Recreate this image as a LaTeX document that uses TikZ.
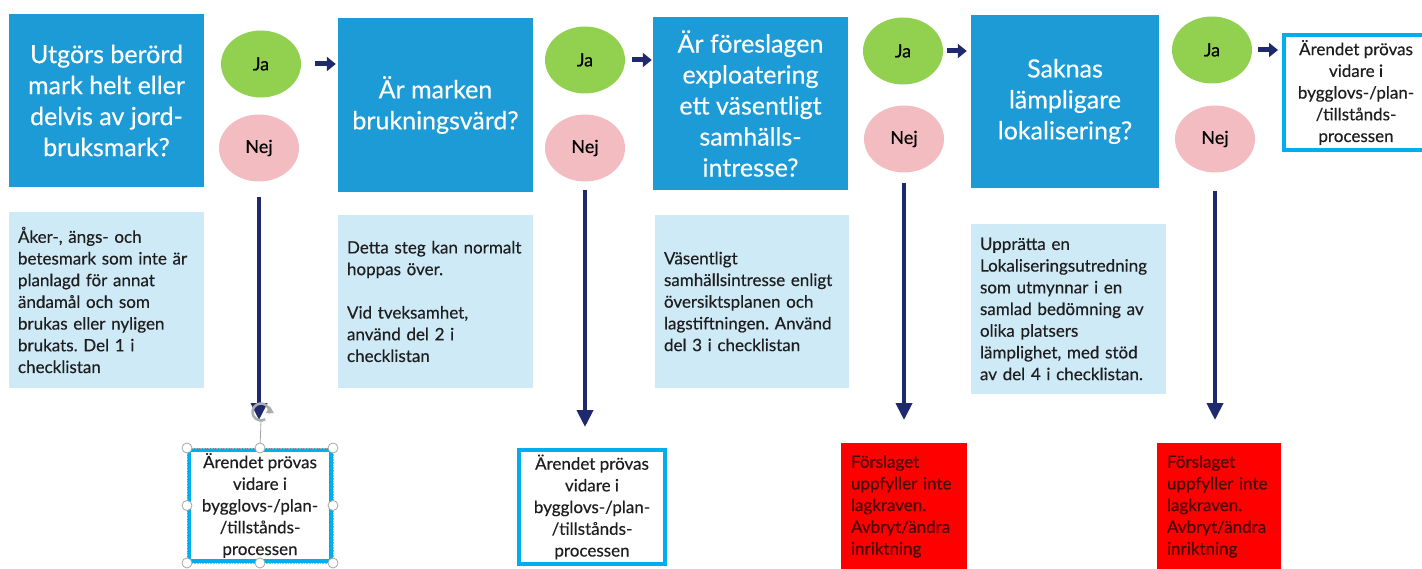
\documentclass[tikz,border=0pt]{standalone}
\usepackage{fontspec}
\setmainfont{Lato}[FakeBold=0.35]
\usetikzlibrary{arrows.meta,shapes.geometric}
\definecolor{qblue}{RGB}{29,155,215}
\definecolor{jagreen}{RGB}{146,208,80}
\definecolor{nejpink}{RGB}{242,188,192}
\definecolor{descblue}{RGB}{207,234,247}
\definecolor{navy}{RGB}{31,42,110}
\definecolor{cyanb}{RGB}{0,174,239}
\definecolor{redbox}{RGB}{255,0,0}
\definecolor{redtext}{RGB}{70,8,8}
\definecolor{txt}{RGB}{30,30,30}
\frenchspacing
\begin{document}
\begin{tikzpicture}[x=1pt,y=-1pt,
  qbox/.style={fill=qblue,text=white,align=center,font=\fontsize{25}{31}\selectfont,inner sep=0pt},
  ja/.style={ellipse,fill=jagreen,minimum width=80pt,minimum height=67pt,inner sep=0pt,font=\fontsize{18}{20}\selectfont,text=black},
  nej/.style={ellipse,fill=nejpink,minimum width=80pt,minimum height=67pt,inner sep=0pt,font=\fontsize{18}{20}\selectfont,text=black},
  desc/.style={fill=descblue,text=txt,align=left,font=\fontsize{17}{21.7}\selectfont,inner xsep=9pt,inner ysep=0pt},
  outbox/.style={draw=cyanb,line width=4pt,fill=white,align=center,text=txt,font=\fontsize{17}{21.7}\selectfont,inner sep=0pt},
  redb/.style={fill=redbox,text=redtext,align=left,font=\fontsize{17}{21.7}\selectfont,inner xsep=10pt,inner ysep=12pt,anchor=north},
  harrow/.style={draw=navy,line width=5pt,-{Triangle[length=9pt,width=14pt]}},
  varrow/.style={draw=navy,line width=4pt,-{Triangle[length=17pt,width=16pt]}},
  handle/.style={circle,draw=gray!70,fill=white,line width=0.8pt,minimum size=10pt,inner sep=0pt}
]
\useasboundingbox (0,0) rectangle (1422,569);

% question boxes
\node[qbox,minimum width=195pt,minimum height=173pt] (q1) at (106.5,100.5) {Utgörs berörd\\mark helt eller\\delvis av jord-\\bruksmark?};
\node[qbox,minimum width=195pt,minimum height=174pt] (q2) at (435.5,105) {Är marken\\brukningsvärd?};
\node[qbox,minimum width=195pt,minimum height=173pt] (q3) at (750.5,103.5) {Är föreslagen\\exploatering\\ett väsentligt\\samhälls-\\intresse?};
\node[qbox,minimum width=188pt,minimum height=173pt] (q4) at (1065,101.5) {Saknas\\lämpligare\\lokalisering?};

% ja / nej
\node[ja] (ja1) at (261,64) {Ja};
\node[nej] (nej1) at (259,148) {Nej};
\node[ja] (ja2) at (585,60) {Ja};
\node[nej] (nej2) at (585,148) {Nej};
\node[ja] (ja3) at (903,51) {Ja};
\node[nej] (nej3) at (904,139) {Nej};
\node[ja] (ja4) at (1212,50) {Ja};
\node[nej] (nej4) at (1215,139) {Nej};

% description boxes
\node[desc,text width=177pt,minimum height=176pt] (d1) at (106.5,300) {Åker-, ängs- och\\betesmark som inte är\\planlagd för annat\\ändamål och som\\brukas eller nyligen\\brukats. Del 1 i\\checklistan};
\node[desc,text width=177pt,minimum height=173pt] (d2) at (435.5,301.5) {Detta steg kan normalt\\hoppas över.\\[21.7pt]Vid tveksamhet,\\använd del 2 i\\checklistan};
\node[desc,text width=176pt,minimum height=173pt] (d3) at (752,301.5) {Väsentligt\\samhällsintresse enligt\\översiktsplanen och\\lagstiftningen. Använd\\del 3 i checklistan};
\node[desc,text width=177pt,minimum height=170pt] (d4) at (1068.5,309) {Upprätta en\\Lokaliseringsutredning\\som utmynnar i en\\samlad bedömning av\\olika platsers\\lämplighet, med stöd\\av del 4 i checklistan.};

% outcome boxes
\node[outbox,minimum width=142pt,minimum height=111pt] (b1) at (260,505.5) {Ärendet prövas\\vidare i\\bygglovs-/plan-\\/tillstånds-\\processen};
\node[outbox,minimum width=146pt,minimum height=114pt] (b2) at (592,507) {Ärendet prövas\\vidare i\\bygglovs-/plan-\\/tillstånds-\\processen};
\node[outbox,minimum width=144pt,minimum height=115pt] (b5) at (1356,92.5) {Ärendet prövas\\vidare i\\bygglovs-/plan-\\/tillstånds-\\processen};
\node[redb,text width=106pt] (r3) at (904,443) {Förslaget\\uppfyller inte\\lagkraven.\\Avbryt/ändra\\inriktning};
\node[redb,text width=104pt] (r4) at (1219,443) {Förslaget\\uppfyller inte\\lagkraven.\\Avbryt/ändra\\inriktning};

% horizontal arrows
\draw[harrow,shorten <=14pt,shorten >=2pt] (ja1.east) -- (q2.west |- ja1.east);
\draw[harrow,shorten <=7pt,shorten >=1pt] (ja2.east) -- (q3.west |- ja2.east);
\draw[harrow,shorten <=4pt,shorten >=4pt] (ja3.east) -- (q4.west |- ja3.east);
\draw[harrow,shorten <=6pt,shorten >=4pt] (ja4.east) -- (b5.west |- ja4.east);

% vertical arrows
\draw[varrow,shorten <=15pt,shorten >=28pt] (nej1.south) -- (nej1.south |- b1.north);
\draw[varrow,shorten <=8pt,shorten >=21pt] (nej2.south) -- (nej2.south |- b2.north);
\draw[varrow,shorten <=10pt,shorten >=23pt] (nej3.south) -- (nej3.south |- r3.north);
\draw[varrow,shorten <=18pt,shorten >=23pt] (nej4.south) -- (nej4.south |- r4.north);

% selection frame on b1
\draw[gray!60,densely dotted,line width=0.6pt] (b1.north west) rectangle (b1.south east);
\coordinate (rot) at (261,412);
\coordinate (rotb) at (261,421);
\draw[gray!70,line width=0.8pt] (rotb) -- (b1.north);
\draw[gray!65,line width=2.5pt] (rot) ++(60:8.5) arc (60:370:8.5);
\fill[gray!65] (rot) ++(12:5) -- ++(0:8) -- ++(-120:8) -- cycle;
\foreach \a in {north west,north,north east,west,east,south west,south,south east}
  \node[handle] at (b1.\a) {};
\end{tikzpicture}
\end{document}
